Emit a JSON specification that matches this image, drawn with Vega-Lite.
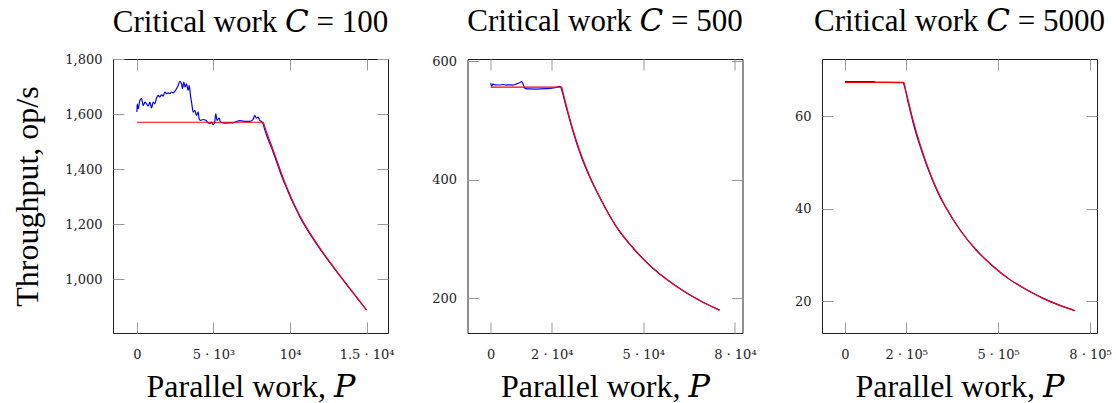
{
  "$schema": "https://vega.github.io/schema/vega-lite/v6.json",
  "background": "white",
  "padding": {"left": 11, "top": 5, "right": 0, "bottom": 0},
  "bounds": "flush",
  "spacing": 79.5,
  "config": {
    "view": {"stroke": "#222222", "strokeWidth": 1},
    "axis": {
      "domain": false, "grid": false, "tickSize": -11, "tickColor": "#9a9a9a", "tickWidth": 1,
      "labelFont": "DejaVu Serif", "labelFontSize": 13, "labelColor": "#222222", "labelPadding": 22,
      "titleFont": "Liberation Serif, DejaVu Serif", "titleFontSize": 32, "titleFontWeight": "normal", "titleColor": "#000000"
    },
    "axisBottom": {"titlePadding": 10, "labelPadding": 26},
    "axisLeft": {"titlePadding": 20},
    "title": {"font": "Liberation Serif, DejaVu Serif", "fontSize": 31, "fontWeight": "normal", "color": "#000000", "anchor": "middle", "frame": "group", "baseline": "alphabetic"}
  },
  "datasets": {
    "c100_blue": [
      {"P": 0, "T": 1607}, {"P": 22, "T": 1637}, {"P": 87, "T": 1619}, {"P": 196, "T": 1650}, {"P": 304, "T": 1656},
      {"P": 413, "T": 1631}, {"P": 522, "T": 1643}, {"P": 630, "T": 1637}, {"P": 739, "T": 1629}, {"P": 848, "T": 1643},
      {"P": 957, "T": 1622}, {"P": 1065, "T": 1643}, {"P": 1174, "T": 1637}, {"P": 1283, "T": 1658}, {"P": 1391, "T": 1668},
      {"P": 1500, "T": 1662}, {"P": 1609, "T": 1670}, {"P": 1717, "T": 1665}, {"P": 1826, "T": 1680}, {"P": 1935, "T": 1674},
      {"P": 2044, "T": 1677}, {"P": 2152, "T": 1674}, {"P": 2261, "T": 1680}, {"P": 2370, "T": 1677}, {"P": 2478, "T": 1682},
      {"P": 2587, "T": 1692}, {"P": 2696, "T": 1704}, {"P": 2804, "T": 1719}, {"P": 2913, "T": 1710}, {"P": 2978, "T": 1692},
      {"P": 3065, "T": 1716}, {"P": 3152, "T": 1698}, {"P": 3239, "T": 1710}, {"P": 3348, "T": 1686}, {"P": 3413, "T": 1704},
      {"P": 3500, "T": 1668}, {"P": 3587, "T": 1637}, {"P": 3674, "T": 1607}, {"P": 3783, "T": 1613}, {"P": 3891, "T": 1595},
      {"P": 4000, "T": 1607}, {"P": 4065, "T": 1583}, {"P": 4152, "T": 1577}, {"P": 4326, "T": 1580}, {"P": 4500, "T": 1577},
      {"P": 4652, "T": 1568}, {"P": 4761, "T": 1565}, {"P": 4870, "T": 1571}, {"P": 4978, "T": 1561}, {"P": 5087, "T": 1573},
      {"P": 5152, "T": 1601}, {"P": 5239, "T": 1577}, {"P": 5370, "T": 1585}, {"P": 5457, "T": 1571}, {"P": 5630, "T": 1568},
      {"P": 5848, "T": 1567}, {"P": 6065, "T": 1568}, {"P": 6283, "T": 1568}, {"P": 6500, "T": 1573}, {"P": 6717, "T": 1576},
      {"P": 6935, "T": 1574}, {"P": 7152, "T": 1573}, {"P": 7370, "T": 1573}, {"P": 7587, "T": 1580}, {"P": 7696, "T": 1595},
      {"P": 7804, "T": 1585}, {"P": 7913, "T": 1589}, {"P": 8022, "T": 1577}, {"P": 8130, "T": 1573}, {"P": 8239, "T": 1565},
      {"P": 8330, "T": 1547}, {"P": 8909, "T": 1460}, {"P": 9562, "T": 1359}, {"P": 10653, "T": 1225}, {"P": 11743, "T": 1127},
      {"P": 12827, "T": 1043}, {"P": 13918, "T": 964}, {"P": 15000, "T": 887}
    ],
    "c100_red": [
      {"P": 0, "T": 1570}, {"P": 8256, "T": 1570}, {"P": 8330, "T": 1557}, {"P": 8909, "T": 1468}, {"P": 9562, "T": 1366},
      {"P": 10653, "T": 1229}, {"P": 11743, "T": 1130}, {"P": 12827, "T": 1045}, {"P": 13918, "T": 965}, {"P": 15000, "T": 888}
    ],
    "c500_blue": [
      {"P": 0, "T": 563}, {"P": 330, "T": 557.5}, {"P": 760, "T": 561}, {"P": 1500, "T": 560}, {"P": 2940, "T": 559.7},
      {"P": 4000, "T": 560.5}, {"P": 5000, "T": 559.5}, {"P": 6000, "T": 560}, {"P": 7080, "T": 559.5}, {"P": 8200, "T": 561},
      {"P": 9270, "T": 563}, {"P": 10150, "T": 565.5}, {"P": 11240, "T": 554}, {"P": 12550, "T": 553}, {"P": 15000, "T": 552.8},
      {"P": 18020, "T": 553.5}, {"P": 21000, "T": 555}, {"P": 21830, "T": 556}, {"P": 22380, "T": 557.5}, {"P": 22940, "T": 556},
      {"P": 23260, "T": 551}, {"P": 24870, "T": 520}, {"P": 27040, "T": 480}, {"P": 29240, "T": 445}, {"P": 32520, "T": 403.5},
      {"P": 35810, "T": 369}, {"P": 41290, "T": 319.5}, {"P": 46750, "T": 284}, {"P": 52230, "T": 255}, {"P": 57720, "T": 231.7},
      {"P": 63170, "T": 212.5}, {"P": 68660, "T": 196}, {"P": 75000, "T": 180}
    ],
    "c500_red": [
      {"P": 0, "T": 556}, {"P": 23260, "T": 556}, {"P": 23400, "T": 553}, {"P": 24870, "T": 523}, {"P": 27040, "T": 482.5},
      {"P": 29240, "T": 447.5}, {"P": 32520, "T": 405}, {"P": 35810, "T": 370}, {"P": 41290, "T": 320}, {"P": 46750, "T": 284.5},
      {"P": 52230, "T": 255}, {"P": 57720, "T": 231.7}, {"P": 63170, "T": 212.5}, {"P": 68660, "T": 196}, {"P": 75000, "T": 180}
    ],
    "c5000_blue": [
      {"P": 0, "T": 67.5}, {"P": 95000, "T": 67.5}, {"P": 100000, "T": 67.35}, {"P": 190000, "T": 67.3}, {"P": 192000, "T": 67.0},
      {"P": 206700, "T": 62.9}, {"P": 223000, "T": 58.5}, {"P": 244900, "T": 53.6}, {"P": 266700, "T": 49.4}, {"P": 288300, "T": 45.8},
      {"P": 310000, "T": 42.6}, {"P": 329700, "T": 40.2}, {"P": 375400, "T": 35.45}, {"P": 430000, "T": 30.95}, {"P": 484200, "T": 27.5},
      {"P": 538700, "T": 24.65}, {"P": 593200, "T": 22.45}, {"P": 647400, "T": 20.6}, {"P": 701900, "T": 19.07}, {"P": 750000, "T": 17.95}
    ],
    "c5000_red": [
      {"P": 0, "T": 67.36}, {"P": 192600, "T": 67.36}, {"P": 194000, "T": 66.9}, {"P": 206700, "T": 63.4}, {"P": 223000, "T": 59.0},
      {"P": 244900, "T": 54.0}, {"P": 266700, "T": 49.7}, {"P": 288300, "T": 46.0}, {"P": 310000, "T": 42.8}, {"P": 329700, "T": 40.3},
      {"P": 375400, "T": 35.45}, {"P": 430000, "T": 30.95}, {"P": 484200, "T": 27.5}, {"P": 538700, "T": 24.65}, {"P": 593200, "T": 22.45},
      {"P": 647400, "T": 20.6}, {"P": 701900, "T": 19.07}, {"P": 750000, "T": 17.95}
    ]
  },
  "hconcat": [
    {
      "width": 275, "height": 274,
      "title": {"text": "Critical work 𝐶 = 100", "offset": 14.5},
      "layer": [
        {
          "data": {"name": "c100_blue"},
          "mark": {"type": "line", "color": "#0000ff", "strokeWidth": 1.2, "interpolate": "monotone"},
          "encoding": {
            "x": {"field": "P", "type": "quantitative", "scale": {"domain": [-1560, 16400], "nice": false, "zero": false},
                  "axis": {"orient": "top", "labels": false, "title": null, "values": [0, 5000, 10000, 15000]}},
            "y": {"field": "T", "type": "quantitative", "scale": {"domain": [804, 1800], "nice": false, "zero": false},
                  "axis": {"orient": "right", "labels": false, "title": null, "values": [1000, 1200, 1400, 1600, 1800]}}
          }
        },
        {
          "data": {"name": "c100_red"},
          "mark": {"type": "line", "color": "#ff0000", "strokeWidth": 1.2, "interpolate": "monotone"},
          "encoding": {
            "x": {"field": "P", "type": "quantitative", "scale": {"domain": [-1560, 16400], "nice": false, "zero": false},
                  "axis": {"orient": "bottom", "title": "Parallel work, 𝑃", "values": [0, 5000, 10000, 15000],
                           "labelExpr": "datum.value == 0 ? '0' : datum.value == 5000 ? '5 · 10³' : datum.value == 10000 ? '10⁴' : '1.5 · 10⁴'"}},
            "y": {"field": "T", "type": "quantitative", "scale": {"domain": [804, 1800], "nice": false, "zero": false},
                  "axis": {"orient": "left", "title": "Throughput, op/s", "values": [1000, 1200, 1400, 1600, 1800], "format": ",d"}}
          }
        }
      ]
    },
    {
      "width": 275, "height": 274,
      "title": {"text": "Critical work 𝐶 = 500", "offset": 16.6},
      "layer": [
        {
          "data": {"name": "c500_blue"},
          "mark": {"type": "line", "color": "#0000ff", "strokeWidth": 1.2, "interpolate": "monotone"},
          "encoding": {
            "x": {"field": "P", "type": "quantitative", "scale": {"domain": [-7600, 82500], "nice": false, "zero": false},
                  "axis": {"orient": "top", "labels": false, "title": null, "values": [0, 20000, 50000, 80000]}},
            "y": {"field": "T", "type": "quantitative", "scale": {"domain": [141.5, 603.5], "nice": false, "zero": false},
                  "axis": {"orient": "right", "labels": false, "title": null, "values": [200, 400, 600]}}
          }
        },
        {
          "data": {"name": "c500_red"},
          "mark": {"type": "line", "color": "#ff0000", "strokeWidth": 1.2, "interpolate": "monotone"},
          "encoding": {
            "x": {"field": "P", "type": "quantitative", "scale": {"domain": [-7600, 82500], "nice": false, "zero": false},
                  "axis": {"orient": "bottom", "title": "Parallel work, 𝑃", "values": [0, 20000, 50000, 80000],
                           "labelExpr": "datum.value == 0 ? '0' : datum.value == 20000 ? '2 · 10⁴' : datum.value == 50000 ? '5 · 10⁴' : '8 · 10⁴'"}},
            "y": {"field": "T", "type": "quantitative", "scale": {"domain": [141.5, 603.5], "nice": false, "zero": false},
                  "axis": {"orient": "left", "title": null, "values": [200, 400, 600]}}
          }
        }
      ]
    },
    {
      "width": 275, "height": 274,
      "title": {"text": "Critical work 𝐶 = 5000", "offset": 21},
      "layer": [
        {
          "data": {"name": "c5000_blue"},
          "mark": {"type": "line", "color": "#0000ff", "strokeWidth": 1.2, "interpolate": "monotone"},
          "encoding": {
            "x": {"field": "P", "type": "quantitative", "scale": {"domain": [-75000, 823000], "nice": false, "zero": false},
                  "axis": {"orient": "top", "labels": false, "title": null, "values": [0, 200000, 500000, 800000]}},
            "y": {"field": "T", "type": "quantitative", "scale": {"domain": [13.1, 72.4], "nice": false, "zero": false},
                  "axis": {"orient": "right", "labels": false, "title": null, "values": [20, 40, 60]}}
          }
        },
        {
          "data": {"name": "c5000_red"},
          "mark": {"type": "line", "color": "#ff0000", "strokeWidth": 1.2, "interpolate": "monotone"},
          "encoding": {
            "x": {"field": "P", "type": "quantitative", "scale": {"domain": [-75000, 823000], "nice": false, "zero": false},
                  "axis": {"orient": "bottom", "title": "Parallel work, 𝑃", "values": [0, 200000, 500000, 800000],
                           "labelExpr": "datum.value == 0 ? '0' : datum.value == 200000 ? '2 · 10⁵' : datum.value == 500000 ? '5 · 10⁵' : '8 · 10⁵'"}},
            "y": {"field": "T", "type": "quantitative", "scale": {"domain": [13.1, 72.4], "nice": false, "zero": false},
                  "axis": {"orient": "left", "title": null, "values": [20, 40, 60]}}
          }
        }
      ]
    }
  ]
}
